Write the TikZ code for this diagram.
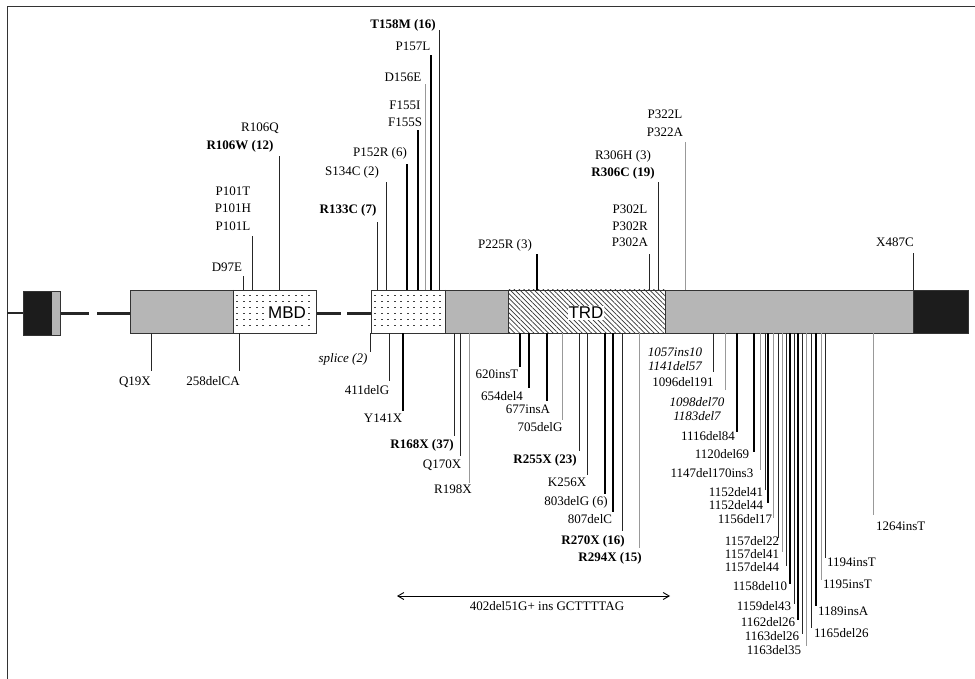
\documentclass[tikz,border=0pt]{standalone}
\usepackage{fontspec}
\setmainfont{Liberation Serif}
\newfontfamily\sansf{Liberation Sans}
\usetikzlibrary{patterns,patterns.meta,arrows.meta}
\definecolor{genegray}{RGB}{182,182,182}
\definecolor{darkbox}{RGB}{28,28,28}
\newcommand\mut[5][mline]{%
  \coordinate (#2a) at (#3,#4);
  \coordinate (#2b) at (#3,#5);
  \draw[#1] (#2a) -- (#2b);}
\begin{document}
\begin{tikzpicture}[x=1pt,y=-1pt,
  lab/.style={font=\fontsize{13}{15}\selectfont, inner sep=0pt, text height=9pt, text depth=2.5pt},
  blab/.style={lab, font=\fontsize{13}{15}\selectfont\bfseries},
  ilab/.style={lab, font=\fontsize{13}{15}\selectfont\itshape},
  mline/.style={line width=0.9pt, black!85},
  hline/.style={line width=1.5pt, black},
  lline/.style={line width=0.7pt, black!40},
  box/.style={draw=black!80, line width=0.8pt},
  intron/.style={line width=3pt, black!85},
  dom/.style={font=\fontsize{17}{19}\selectfont\sansf, inner sep=1pt}]
\useasboundingbox (0,0) rectangle (975,679);
% frame
\draw[line width=1pt, black!80] (7,679) -- (7,7) -- (975,7);
% backbone
\draw[line width=1.6pt, black!85] (7,313) -- (23,313);
\draw[intron] (60,313) -- (89,313);
\draw[intron] (97,313) -- (130,313);
\draw[intron] (316,313) -- (341,313);
\draw[intron] (347,313) -- (371,313);
% exon 1
\fill[darkbox] (23,291) rectangle (52,335);
\fill[genegray] (52,291) rectangle (60,335);
\draw[box] (23,291) rectangle (60,335);
% exon 2/3
\fill[genegray] (130,290) rectangle (233,333);
\fill[white] (233,290) rectangle (316,333);
\foreach \yy in {295,301,...,329} \foreach \xx in {236,242.5,...,312} \fill[black!75] (\xx,\yy) rectangle ++(2.2,1.4);
\draw[box] (130,290) rectangle (316,333);
\draw[box] (233,290) -- (233,333);
\node[dom, fill=white] (mbd) at (287,313) {MBD};
% exon 4
\fill[white] (371,290) rectangle (445,333);
\foreach \yy in {295,301,...,329} \foreach \xx in {374,380.5,...,442} \fill[black!75] (\xx,\yy) rectangle ++(2.2,1.4);
\fill[genegray] (445,290) rectangle (508,333);
\fill[white] (508,290) rectangle (665,333);
\fill[pattern={Lines[angle=-45, distance=3.4pt, line width=0.7pt]}, pattern color=black!80] (508,290) rectangle (665,333);
\fill[genegray] (665,290) rectangle (913,333);
\fill[darkbox] (913,290) rectangle (968,333);
\draw[box] (371,290) rectangle (968,333);
\foreach \xx in {445,508,665,913} \draw[box] (\xx,290) -- (\xx,333);
\node[dom, fill=white] (trd) at (586,313) {TRD};
% ---------- top mutations ----------
\mut{d97}{243}{290}{276} \node[lab] (Ld97) at (227,268) {D97E};
\mut{p101}{252}{290}{236}
\node[lab] (Lp101t) at (233,192) {P101T};
\node[lab] (Lp101h) at (233,209) {P101H};
\node[lab] (Lp101l) at (233,227) {P101L};
\mut{r106}{279}{290}{156}
\node[lab] (Lr106q) at (260,128) {R106Q};
\node[blab] (Lr106w) at (240,146) {R106W (12)};
\mut{r133}{377}{290}{222} \node[blab] (Lr133) at (348,210) {R133C (7)};
\mut{s134}{386}{290}{182} \node[lab] (Ls134) at (352,172) {S134C (2)};
\mut[hline]{p152}{407}{290}{164} \node[lab] (Lp152) at (380,153) {P152R (6)};
\mut[hline]{f155}{418}{290}{130}
\node[lab] (Lf155i) at (405,106) {F155I};
\node[lab] (Lf155s) at (405,123) {F155S};
\mut[lline]{d156}{425}{290}{84} \node[lab] (Ld156) at (403,78) {D156E};
\mut[hline]{p157}{431}{290}{55} \node[lab] (Lp157) at (413,47) {P157L};
\mut{t158}{439}{290}{30} \node[blab] (Lt158) at (403,25) {T158M (16)};
\mut[hline]{p225}{537}{290}{254} \node[lab] (Lp225) at (505,245) {P225R (3)};
\mut{p302}{649}{290}{254}
\node[lab] (Lp302l) at (630,210) {P302L};
\node[lab] (Lp302r) at (630,227) {P302R};
\node[lab] (Lp302a) at (630,243) {P302A};
\mut{r306}{658}{290}{182}
\node[lab] (Lr306h) at (623,156) {R306H (3)};
\node[blab] (Lr306c) at (623,173) {R306C (19)};
\mut[lline]{p322}{685}{290}{142}
\node[lab] (Lp322l) at (665,115) {P322L};
\node[lab] (Lp322a) at (665,133) {P322A};
\mut{x487}{913}{290}{253} \node[lab] (Lx487) at (895,243) {X487C};
% ---------- bottom mutations ----------
\mut{q19}{151}{333}{371} \node[lab] (Lq19) at (135,382) {Q19X};
\mut{d258}{239}{333}{371} \node[lab] (Ld258) at (213,382) {258delCA};
\mut{spl}{370}{333}{352} \node[ilab] (Lspl) at (343,359) {splice (2)};
\mut{d411}{389}{333}{381} \node[lab] (Ld411) at (367,391) {411delG};
\mut[hline]{y141}{403}{333}{411} \node[lab] (Ly141) at (383,419) {Y141X};
\mut{r168}{454}{333}{436} \node[blab] (Lr168) at (422,445) {R168X (37)};
\mut{q170}{460}{333}{456} \node[lab] (Lq170) at (442,465) {Q170X};
\mut[lline]{r198}{469}{333}{483} \node[lab] (Lr198) at (453,490) {R198X};
\mut[hline]{i620}{520}{333}{367} \node[lab] (Li620) at (497,375) {620insT};
\mut[hline]{d654}{529}{333}{388} \node[lab] (Ld654) at (502,397) {654del4};
\mut[hline]{i677}{547}{333}{401} \node[lab] (Li677) at (528,410) {677insA};
\mut[lline]{d705}{562}{333}{420} \node[lab] (Ld705) at (540,428) {705delG};
\mut{r255}{579}{333}{451} \node[blab] (Lr255) at (545,460) {R255X (23)};
\mut{k256}{587}{333}{475} \node[lab] (Lk256) at (567,483) {K256X};
\mut[hline]{d803}{605}{333}{494} \node[lab] (Ld803) at (576,502) {803delG (6)};
\mut[hline]{d807}{613}{333}{512} \node[lab] (Ld807) at (590,520) {807delC};
\mut{r270}{622}{333}{531} \node[blab] (Lr270) at (593,541) {R270X (16)};
\mut[lline]{r294}{639}{333}{548} \node[blab] (Lr294) at (610,558) {R294X (15)};
\mut{i1057}{713}{333}{372}
\node[ilab] (Li1057) at (675,353) {1057ins10};
\node[ilab] (Ld1141) at (675,367) {1141del57};
\mut[lline]{d1096}{725}{333}{390} \node[lab] (Ld1096) at (683,383) {1096del191};
\node[ilab] (Ld1098) at (697,403) {1098del70};
\node[ilab] (Ld1183) at (697,417) {1183del7};
\mut[hline]{d1116}{737}{333}{432} \node[lab] (Ld1116) at (708,437) {1116del84};
\mut[hline]{d1120}{754}{333}{452} \node[lab] (Ld1120) at (722,455) {1120del69};
\mut[lline]{d1147}{760}{333}{470} \node[lab] (Ld1147) at (712,474) {1147del170ins3};
\mut{d1152a}{765}{333}{490} \node[lab] (Ld1152a) at (736,493) {1152del41};
\mut[hline]{d1152b}{768}{333}{503} \node[lab] (Ld1152b) at (736,506) {1152del44};
\mut[lline]{d1156}{773}{333}{518} \node[lab] (Ld1156) at (745,520) {1156del17};
\mut{d1157a}{778}{333}{538} \node[lab] (Ld1157a) at (752,542) {1157del22};
\mut[lline]{d1157b}{782}{333}{552} \node[lab] (Ld1157b) at (752,555) {1157del41};
\mut{d1157c}{786}{333}{566} \node[lab] (Ld1157c) at (752,568) {1157del44};
\mut[hline]{d1158}{790}{333}{584} \node[lab] (Ld1158) at (760,587) {1158del10};
\mut{d1159}{794}{333}{604} \node[lab] (Ld1159) at (764,607) {1159del43};
\mut[hline]{d1162}{798}{333}{620} \node[lab] (Ld1162) at (768,623) {1162del26};
\mut{d1163a}{802}{333}{634} \node[lab] (Ld1163a) at (772,637) {1163del26};
\mut[lline]{d1163b}{806}{333}{646} \node[lab] (Ld1163b) at (774,651) {1163del35};
\mut{d1165}{811}{333}{628} \node[lab, anchor=west] (Ld1165) at (814,634) {1165del26};
\mut[hline]{i1189}{816}{333}{606} \node[lab, anchor=west] (Li1189) at (818,612) {1189insA};
\mut[lline]{i1195}{821}{333}{580} \node[lab, anchor=west] (Li1195) at (823,585) {1195insT};
\mut{i1194}{825}{333}{558} \node[lab, anchor=west] (Li1194) at (827,563) {1194insT};
\mut[lline]{i1264}{873}{333}{515} \node[lab, anchor=west] (Li1264) at (876,527) {1264insT};
% ---------- large deletion ----------
\coordinate (dl) at (397,596);
\coordinate (dr) at (670,596);
\draw[line width=0.9pt, {Straight Barb[length=6pt,width=7pt]}-{Straight Barb[length=6pt,width=7pt]}] (dl) -- (dr);
\node[lab] (Ldel) at (547,607) {402del51G+ ins GCTTTTAG};
\end{tikzpicture}
\end{document}
